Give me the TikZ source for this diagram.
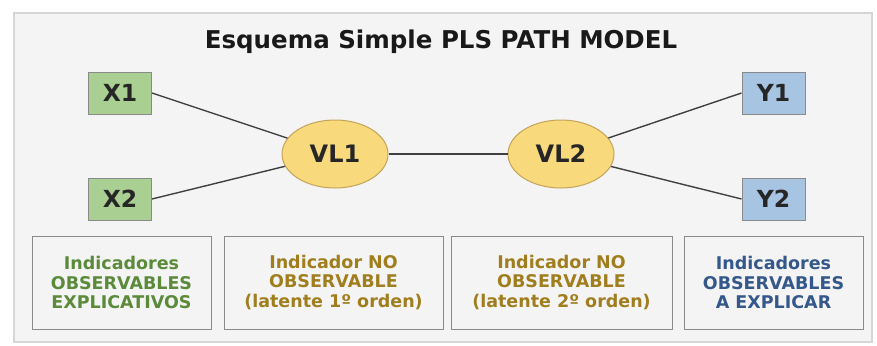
\documentclass[tikz,border=0pt]{standalone}
\usepackage{fontspec}
\setmainfont{DejaVu Sans}
\usetikzlibrary{shapes.geometric}
\definecolor{panel}{HTML}{F4F4F4}
\definecolor{frameline}{HTML}{D6D6D6}
\definecolor{boxline}{HTML}{8A8A8A}
\definecolor{xfill}{HTML}{A9CF92}
\definecolor{yfill}{HTML}{A7C5E3}
\definecolor{lvfill}{HTML}{F8D97C}
\definecolor{lvline}{HTML}{C4A45A}
\definecolor{linkcol}{HTML}{404040}
\definecolor{txtgreen}{HTML}{5A8A3A}
\definecolor{txtgold}{HTML}{A07E1E}
\definecolor{txtblue}{HTML}{34588A}
\tikzset{
  manifest/.style={draw=boxline, line width=1pt, minimum width=63pt, minimum height=42pt,
    inner sep=0pt, font=\bfseries\fontsize{23.5}{26}\selectfont, text=black!85},
  latentvar/.style={ellipse, draw=lvline, line width=1pt, fill=lvfill, minimum width=106pt,
    minimum height=68pt, inner sep=0pt, font=\bfseries\fontsize{24}{26}\selectfont, text=black!85},
  link/.style={draw=linkcol, line width=1.4pt},
  legendbox/.style={draw=boxline, line width=1pt, fill=panel, minimum height=93pt, inner sep=0pt,
    align=center, font=\bfseries\fontsize{17.5}{19.5}\selectfont},
}
\begin{document}
\begin{tikzpicture}[x=1pt,y=-1pt]
  \useasboundingbox (0,0) rectangle (877,345);
  \fill[white] (0,0) rectangle (877,345);
  % panel
  \draw[frameline, fill=panel, line width=1.2pt] (14,13) rectangle (872,342);
  % title
  \node[font=\bfseries\fontsize{24.5}{28}\selectfont, text=black!90] (title) at (441,42) {Esquema Simple PLS PATH MODEL};
  % manifest indicators
  \node[manifest, fill=xfill] (X1) at (120,93) {X1};
  \node[manifest, fill=xfill] (X2) at (120,199) {X2};
  \node[manifest, fill=yfill] (Y1) at (773.5,93) {Y1};
  \node[manifest, fill=yfill] (Y2) at (773.5,199) {Y2};
  % latent variables
  \node[latentvar] (VL1) at (335,154) {VL1};
  \node[latentvar] (VL2) at (561,154) {VL2};
  % paths
  \draw[link] (X1.east) -- (VL1);
  \draw[link] (X2.east) -- (VL1);
  \draw[link] (VL1) -- (VL2);
  \draw[link] (VL2) -- (Y1.west);
  \draw[link] (VL2) -- (Y2.west);
  % legend
  \node[legendbox, minimum width=179pt, text=txtgreen] (L1) at (121.5,282.5) {Indicadores\\OBSERVABLES\\EXPLICATIVOS};
  \node[legendbox, minimum width=219pt, text=txtgold] (L2) at (333.5,282.5) {Indicador NO\\OBSERVABLE\\(latente 1º orden)};
  \node[legendbox, minimum width=221pt, text=txtgold] (L3) at (561.5,282.5) {Indicador NO\\OBSERVABLE\\(latente 2º orden)};
  \node[legendbox, minimum width=179pt, text=txtblue] (L4) at (773.5,282.5) {Indicadores\\OBSERVABLES\\A EXPLICAR};
\end{tikzpicture}
\end{document}
